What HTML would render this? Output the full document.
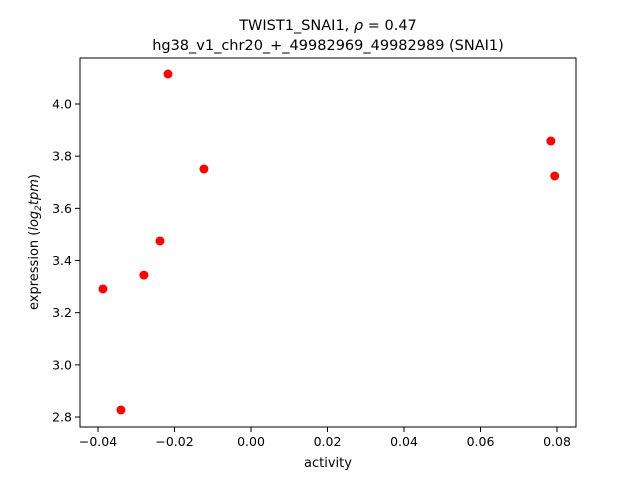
<!DOCTYPE html>
<html><head><meta charset="utf-8"><style>
body{margin:0;background:#fff;width:640px;height:480px;overflow:hidden;font-family:"Liberation Sans","DejaVu Sans",sans-serif}
</style></head><body>
<svg id="chart" width="640" height="480" xmlns="http://www.w3.org/2000/svg" font-family="DejaVu Sans, Liberation Sans, sans-serif">
<text x="328" y="30" text-anchor="middle" font-size="14.5">TWIST1_SNAI1, <tspan font-style="italic">ρ</tspan> = 0.47</text>
<text x="328" y="50" text-anchor="middle" font-size="14.5">hg38_v1_chr20_+_49982969_49982989 (SNAI1)</text>
<rect x="80" y="58" width="496" height="369" fill="none" stroke="#000" stroke-width="1"/>
<g id="xt"></g><g id="yt"></g><g id="pts"></g>
<text x="328" y="467" text-anchor="middle" font-size="13">activity</text>
<text transform="translate(38,242) rotate(-90)" text-anchor="middle" font-size="13">expression (<tspan font-style="italic">log</tspan><tspan font-size="9" dy="3" font-style="italic">2</tspan><tspan dy="-3" font-style="italic">tpm</tspan>)</text>
</svg>
<script>
const activity=[-0.0387,-0.0340,-0.0280,-0.0238,-0.0217,-0.0123,0.0784,0.0794];
const expression=[3.291,2.827,3.344,3.475,4.115,3.751,3.858,3.724];
const xTicks=[-0.04,-0.02,0.00,0.02,0.04,0.06,0.08];
const xTickLabels=["−0.04","−0.02","0.00","0.02","0.04","0.06","0.08"];
const yTicks=[2.8,3.0,3.2,3.4,3.6,3.8,4.0];
const yTickLabels=["2.8","3.0","3.2","3.4","3.6","3.8","4.0"];
const NS="http://www.w3.org/2000/svg";
function sx(v){return 251+v*3825;}
function sy(v){return 104+(4.0-v)*260.85;}
function mk(t,a,p){const e=document.createElementNS(NS,t);for(const k in a)e.setAttribute(k,a[k]);p.appendChild(e);return e;}
const xt=document.getElementById('xt'),yt=document.getElementById('yt'),pts=document.getElementById('pts');
xTicks.forEach((v,i)=>{const x=sx(v);
const l=mk('line',{x1:x,x2:x,y1:427,y2:432,stroke:'#000'},xt);


const t=mk('text',{x:x,y:446,'text-anchor':'middle','font-size':12.5},xt);t.textContent=xTickLabels[i];

});
yTicks.forEach((v,i)=>{const y=sy(v);
const l=mk('line',{x1:75,x2:80,y1:y,y2:y,stroke:'#000'},yt);


const t=mk('text',{x:72,y:y+4.5,'text-anchor':'end','font-size':12.5},yt);t.textContent=yTickLabels[i];

});
activity.forEach((v,i)=>{const c=mk('circle',{cx:sx(v),cy:sy(expression[i]),r:4.5,fill:'#ff0000'},pts);

});
</script>
</body></html>
